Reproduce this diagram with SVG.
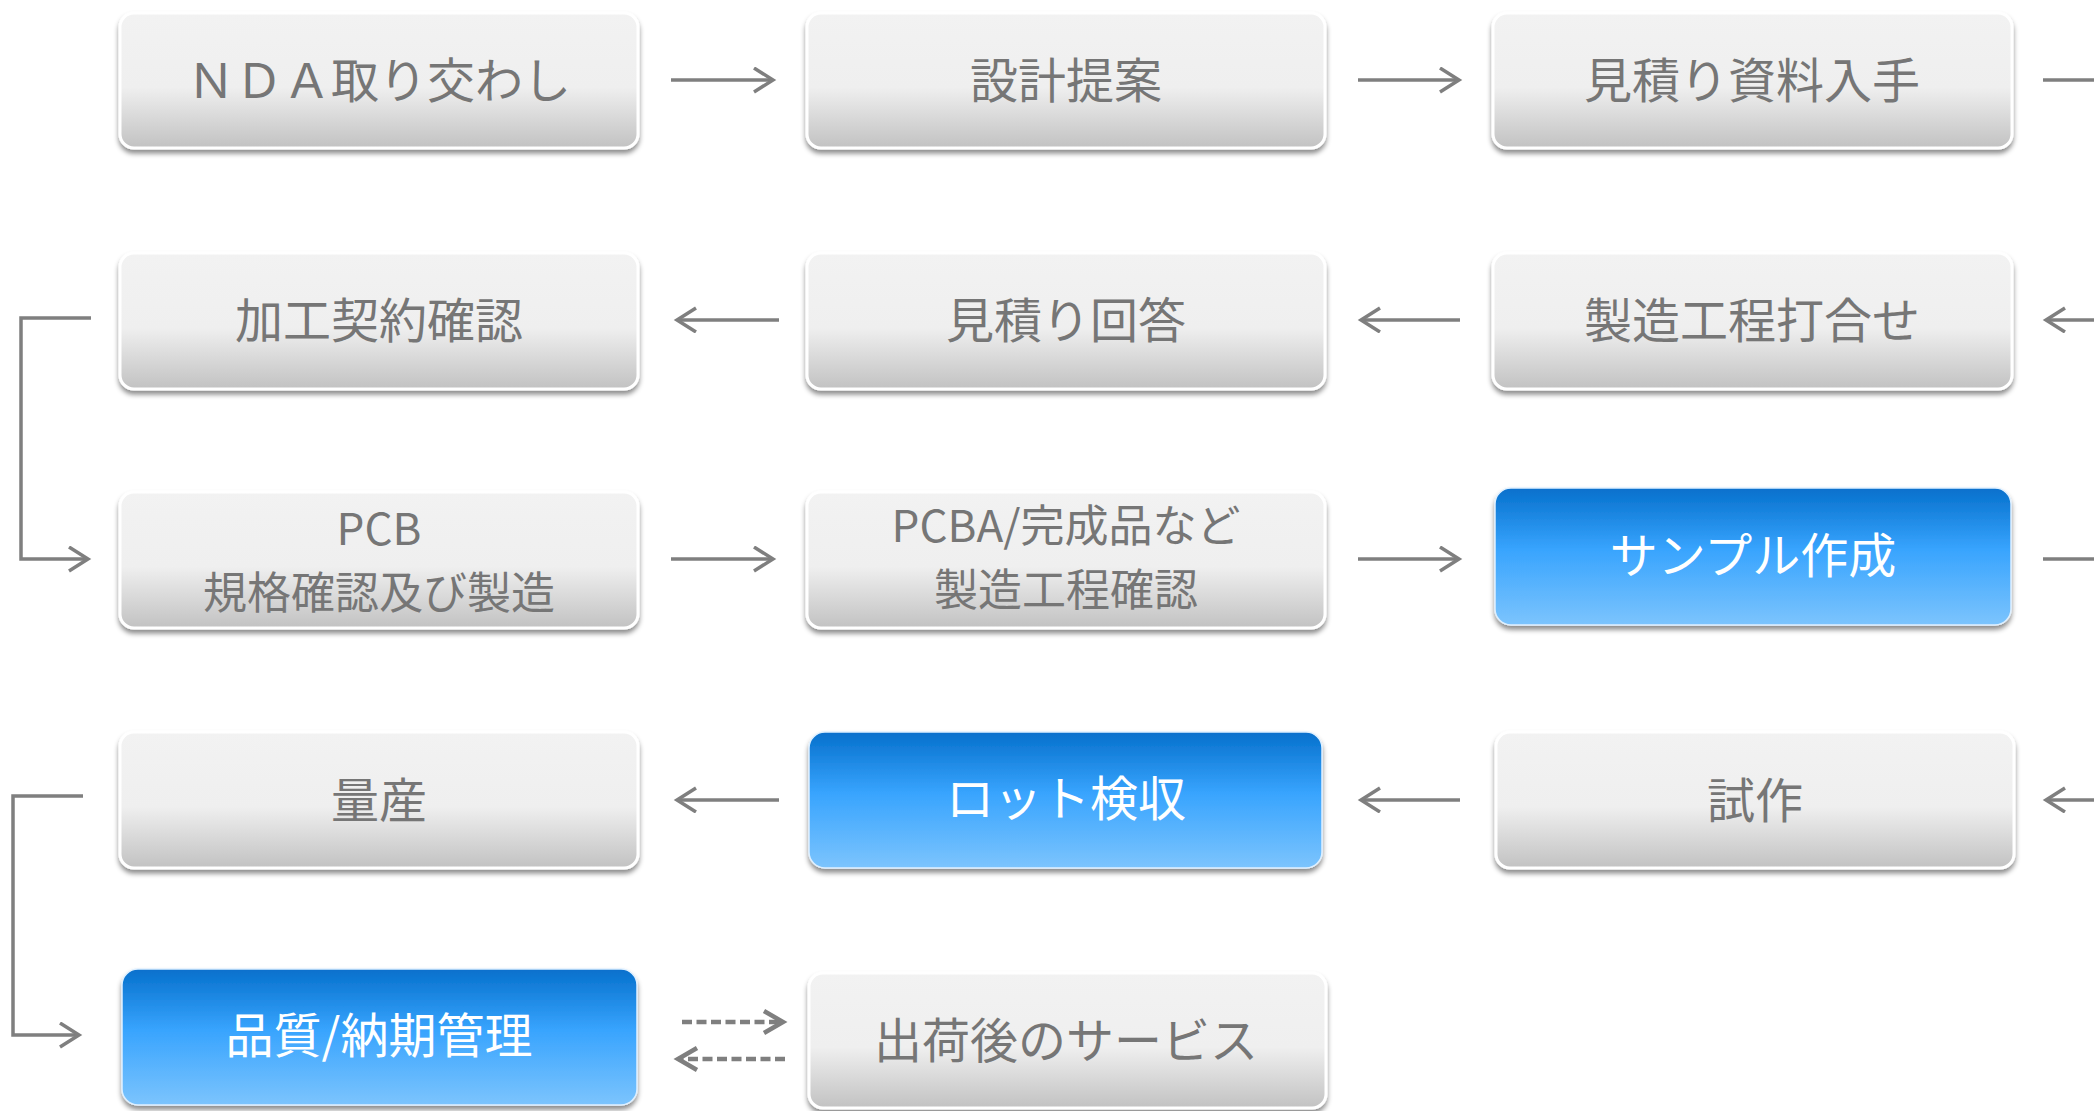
<svg xmlns="http://www.w3.org/2000/svg" width="2094" height="1111" viewBox="0 0 2094 1111">
<defs>
<linearGradient id="gGray" x1="0" y1="0" x2="0" y2="1">
<stop offset="0" stop-color="#f2f2f2"/>
<stop offset="0.55" stop-color="#efefef"/>
<stop offset="1" stop-color="#c2c2c2"/>
</linearGradient>
<linearGradient id="gBlue" x1="0" y1="0" x2="0" y2="1">
<stop offset="0" stop-color="#0670cc"/>
<stop offset="0.45" stop-color="#38a4fe"/>
<stop offset="1" stop-color="#7cc4fd"/>
</linearGradient>
<filter id="sh" x="-5%" y="-10%" width="110%" height="130%">
<feDropShadow dx="0" dy="4" stdDeviation="2.5" flood-color="#000" flood-opacity="0.45"/>
</filter>
<marker id="ah" markerUnits="userSpaceOnUse" markerWidth="26" markerHeight="28" refX="21" refY="13" orient="auto">
<path d="M2,1 L21,13 L2,25" fill="none" stroke="#7f7f7f" stroke-width="3.5"/>
</marker>
<marker id="ahd" markerUnits="userSpaceOnUse" markerWidth="26" markerHeight="28" refX="21" refY="13" orient="auto">
<path d="M2,2 L21,13 L2,24" fill="none" stroke="#7f7f7f" stroke-width="4.5"/>
</marker>
</defs>
<style>
.g{fill:url(#gGray);stroke:#fff;stroke-width:3;filter:url(#sh)}
.b{fill:url(#gBlue);stroke:#dff0ff;stroke-width:1.5;filter:url(#sh)}
.t{font-family:"Noto Sans CJK JP","Noto Sans",sans-serif;font-size:48px;fill:#767676;text-anchor:middle}
.t2{font-size:44px}
.tw{font-family:"Noto Sans CJK JP","Noto Sans",sans-serif;font-size:48px;fill:#ffffff;text-anchor:middle}
.c{fill:none;stroke:#7f7f7f;stroke-width:3.5}
.a{marker-end:url(#ah)}
.d{stroke-dasharray:10 4.5;stroke-width:4.5;marker-end:url(#ahd)}
</style>
<g id="connectors">
<line class="c a" x1="671" y1="80" x2="773" y2="80"/>
<line class="c a" x1="1358" y1="80" x2="1459" y2="80"/>
<line class="c" x1="2043" y1="80" x2="2094" y2="80"/>
<line class="c a" x1="779" y1="320" x2="677" y2="320"/>
<line class="c a" x1="1460" y1="320" x2="1361" y2="320"/>
<line class="c a" x1="2094" y1="320" x2="2046" y2="320"/>
<polyline class="c a" points="91,318 21,318 21,559 88,559"/>
<line class="c a" x1="671" y1="559" x2="773" y2="559"/>
<line class="c a" x1="1358" y1="559" x2="1459" y2="559"/>
<line class="c" x1="2043" y1="559" x2="2094" y2="559"/>
<line class="c a" x1="779" y1="800" x2="677" y2="800"/>
<line class="c a" x1="1460" y1="800" x2="1361" y2="800"/>
<line class="c a" x1="2094" y1="800" x2="2046" y2="800"/>
<polyline class="c a" points="83,796 13,796 13,1035 79,1035"/>
<line class="c d" x1="682" y1="1022" x2="783" y2="1022"/>
<line class="c d" x1="785" y1="1059" x2="678" y2="1059"/>
</g>
<g id="n1"><rect class="g" x="120" y="13" width="518" height="135" rx="14"/><text class="t" x="379" y="98">ＮＤＡ取り交わし</text></g>
<g id="n2"><rect class="g" x="807" y="13" width="518" height="135" rx="14"/><text class="t" x="1066" y="98">設計提案</text></g>
<g id="n3"><rect class="g" x="1493" y="13" width="519" height="135" rx="14"/><text class="t" x="1752" y="98">見積り資料入手</text></g>
<g id="n4"><rect class="g" x="1493" y="253" width="519" height="136" rx="14"/><text class="t" x="1752" y="338">製造工程打合せ</text></g>
<g id="n5"><rect class="g" x="807" y="253" width="518" height="136" rx="14"/><text class="t" x="1066" y="338">見積り回答</text></g>
<g id="n6"><rect class="g" x="120" y="253" width="518" height="136" rx="14"/><text class="t" x="379" y="338">加工契約確認</text></g>
<g id="n7"><rect class="g" x="120" y="492" width="518" height="136" rx="14"/><text class="t t2" x="379" y="545"><tspan x="379" y="545">PCB</tspan><tspan x="379" y="609">規格確認及び製造</tspan></text></g>
<g id="n8"><rect class="g" x="807" y="492" width="518" height="136" rx="14"/><text class="t t2" x="1066" y="542"><tspan x="1066" y="542">PCBA/完成品など</tspan><tspan x="1066" y="606">製造工程確認</tspan></text></g>
<g id="n9"><rect class="b" x="1495" y="488" width="516" height="137" rx="16"/><text class="tw" x="1753" y="573">サンプル作成</text></g>
<g id="n10"><rect class="g" x="1496" y="732" width="518" height="136" rx="14"/><text class="t" x="1755" y="818">試作</text></g>
<g id="n11"><rect class="b" x="809" y="732" width="513" height="136" rx="16"/><text class="tw" x="1066" y="816">ロット検収</text></g>
<g id="n12"><rect class="g" x="120" y="732" width="518" height="136" rx="14"/><text class="t" x="379" y="818">量産</text></g>
<g id="n13"><rect class="b" x="122" y="969" width="515" height="136" rx="16"/><text class="tw" x="379" y="1053">品質/納期管理</text></g>
<g id="n14"><rect class="g" x="809" y="973" width="517" height="135" rx="14"/><text class="t" x="1066" y="1058">出荷後のサービス</text></g>
</svg>
